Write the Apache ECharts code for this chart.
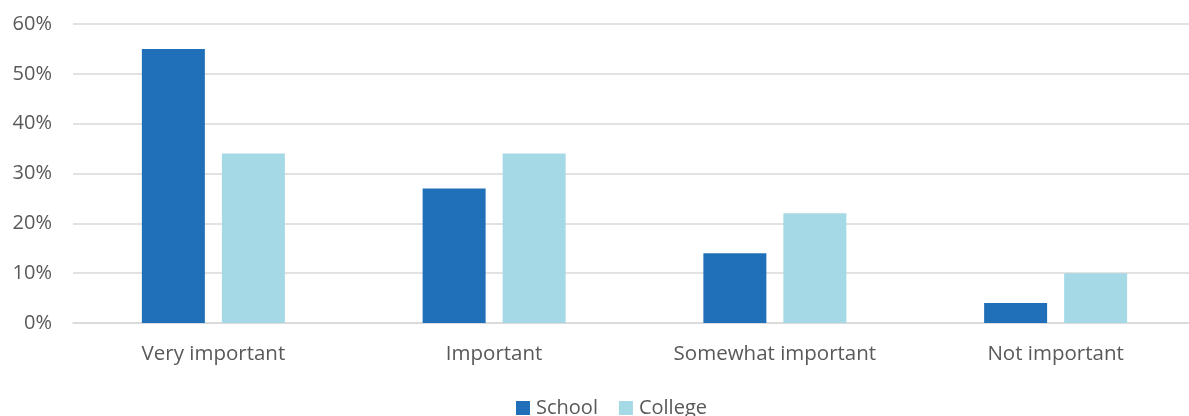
<!DOCTYPE html>
<html>
<head>
<meta charset="utf-8">
<script src="https://cdn.jsdelivr.net/npm/echarts@6/dist/echarts.min.js"></script>
<style>html,body{margin:0;padding:0;background:#fff;}#c{width:1189px;height:416px;}</style>
</head>
<body>
<div id="c"></div>
<script>
const categories = ["Very important", "Important", "Somewhat important", "Not important"];
const school = [55, 27, 14, 4];
const college = [34, 34, 22, 10];
const yTicks = [0, 10, 20, 30, 40, 50, 60];

const chart = echarts.init(document.getElementById('c'));
const font = "'Open Sans', 'Liberation Sans', sans-serif";
chart.setOption({
  animation: false,
  textStyle: { fontFamily: font },
  grid: { left: 73, width: 1123, top: 24, bottom: 93, outerBoundsMode: 'none', containLabel: false },
  legend: {
    data: ['School', 'College'],
    left: 516, top: 398, padding: 0,
    itemWidth: 14, itemHeight: 14, itemGap: 21,
    icon: 'rect',
    textStyle: { color: '#595959', fontSize: 20, fontFamily: font, padding: [0, 0, 0, 1] }
  },
  xAxis: {
    type: 'category', data: categories,
    axisLine: { lineStyle: { color: '#d9d9d9', width: 1.5 } },
    axisTick: { show: false },
    axisLabel: { color: '#595959', fontSize: 20.5, margin: 21, fontFamily: font }
  },
  yAxis: {
    type: 'value', min: yTicks[0], max: yTicks[yTicks.length - 1], interval: 10,
    axisLine: { show: false }, axisTick: { show: false },
    splitLine: { lineStyle: { color: '#d9d9d9', width: 1.5 } },
    axisLabel: { color: '#595959', fontSize: 20, margin: 21, formatter: '{value}%', fontFamily: font }
  },
  series: [
    { name: 'School', type: 'bar', data: school, barWidth: 63, barGap: '27%',
      itemStyle: { color: '#1f70b8' } },
    { name: 'College', type: 'bar', data: college, barWidth: 63,
      itemStyle: { color: '#a5d9e6' } }
  ]
});
</script>
</body>
</html>
